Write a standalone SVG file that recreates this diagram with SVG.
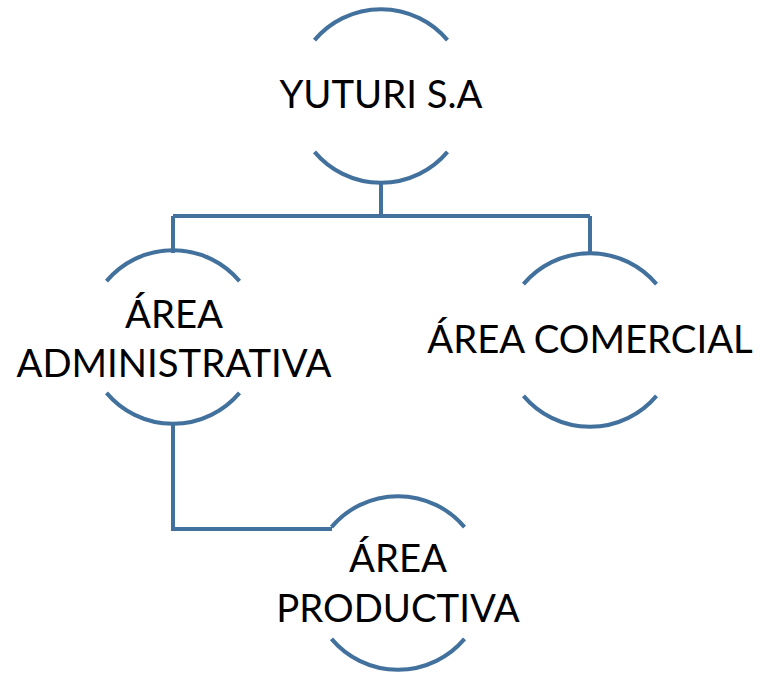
<svg xmlns="http://www.w3.org/2000/svg" width="760" height="673" viewBox="0 0 760 673">
<style>
.arc{fill:none;stroke:#41719C;stroke-width:4;}
.conn{fill:none;stroke:#41719C;stroke-width:4;}
.t{font-family:Lato,"Open Sans",sans-serif;font-size:38.3px;fill:#000;text-anchor:middle;}
</style>
<rect width="760" height="673" fill="#fff"/>
<g id="connectors">
<path class="conn" d="M381,183 V216 M173,216 H590 M173,216 V253 M590,216 V253"/>
<path class="conn" d="M173,422 V529 H332"/>
</g>
<g id="n-yuturi">
<path class="arc" d="M314.5,40.1 A87,87 0 0 1 447.5,40.1"/>
<path class="arc" d="M314.5,151.9 A87,87 0 0 0 447.5,151.9"/>
<text class="t" x="381" y="108">YUTURI S.A</text>
</g>
<g id="n-admin">
<path class="arc" d="M106.5,281.1 A87,87 0 0 1 239.5,281.1"/>
<path class="arc" d="M106.5,392.9 A87,87 0 0 0 239.5,392.9"/>
<text class="t" x="174" y="328">ÁREA</text>
<text class="t" x="174" y="377">ADMINISTRATIVA</text>
</g>
<g id="n-comercial">
<path class="arc" d="M523.5,284.1 A87,87 0 0 1 656.5,284.1"/>
<path class="arc" d="M523.5,395.9 A87,87 0 0 0 656.5,395.9"/>
<text class="t" x="590" y="353">ÁREA COMERCIAL</text>
</g>
<g id="n-productiva">
<path class="arc" d="M331.5,527.1 A87,87 0 0 1 464.5,527.1"/>
<path class="arc" d="M331.5,638.9 A87,87 0 0 0 464.5,638.9"/>
<text class="t" x="398" y="572">ÁREA</text>
<text class="t" x="398" y="622">PRODUCTIVA</text>
</g>
</svg>
